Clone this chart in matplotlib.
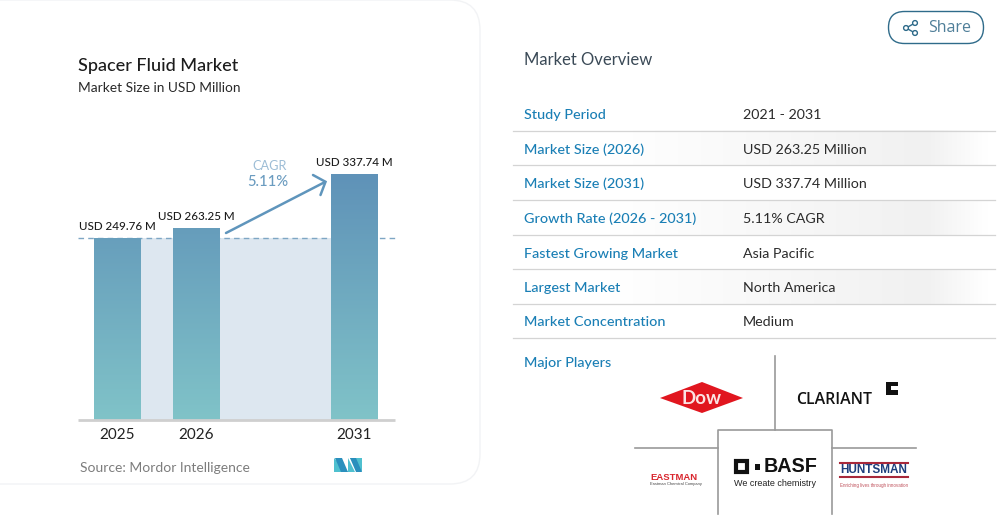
import numpy as np
import matplotlib
matplotlib.use("Agg")
import matplotlib.pyplot as plt
from matplotlib.patches import Rectangle, FancyBboxPatch, Polygon, Circle
from matplotlib.colors import LinearSegmentedColormap

plt.rcParams['font.family'] = ['Lato', 'DejaVu Sans']

W, H = 1002, 531
title = "Spacer Fluid Market"
subtitle = "Market Size in USD Million"
categories = ["2025", "2026", "2031"]
positions = [0, 1, 3]
values = [249.76, 263.25, 337.74]
value_labels = ["USD 249.76 M", "USD 263.25 M", "USD 337.74 M"]
row_names = ["Study Period", "Market Size (2026)", "Market Size (2031)", "Growth Rate (2026 - 2031)",
             "Fastest Growing Market", "Largest Market", "Market Concentration"]
row_values = ["2021 - 2031", "USD 263.25 Million", "USD 337.74 Million", "5.11% CAGR",
              "Asia Pacific", "North America", "Medium"]

fig = plt.figure(figsize=(W / 100, H / 100), dpi=100, facecolor='white')

bg = fig.add_axes([0, 0, 1, 1])
bg.set_xlim(0, W); bg.set_ylim(H, 0); bg.axis('off')

card = FancyBboxPatch((-40, 0), 520, 484, boxstyle="round,pad=0,rounding_size=30",
                      fc='white', ec='#f2f3f5', lw=1)
bg.add_patch(card)
bg.text(78, 66.5, title, fontsize=13.0, color='#1c1c1c', va='center', fontweight='medium')
bg.text(78, 88, subtitle, fontsize=9.95, color='#2a2a2a', va='center')
bg.text(80, 468.5, "Source: Mordor Intelligence", fontsize=10.0, color='#7d7d7d', va='center')

# Mordor mark
bg.add_patch(Polygon([(334, 458), (348, 472), (334, 472)], fc='#4fc0cf'))
bg.add_patch(Polygon([(335, 458), (342, 458), (348, 472), (341, 472)], fc='#2a8fbd'))
bg.add_patch(Polygon([(348, 472), (348, 458), (355, 472)], fc='#4fc0cf'))
bg.add_patch(Polygon([(350, 458), (362, 458), (362, 472)], fc='#4fc0cf'))
bg.add_patch(Polygon([(350, 458), (356, 458), (362, 472), (356, 472)], fc='#2a8fbd'))

# Share button
bg.add_patch(FancyBboxPatch((888.5, 11.5), 95, 32, boxstyle="round,pad=0,rounding_size=16",
                            fc='white', ec='#2f6b8a', lw=1.0))
bg.text(928, 27.5, "Share", fontsize=11.5, color='#4f7f99', va='center', family=['Open Sans'])
for (a, b) in [((906, 28), (915, 23)), ((906, 28), (915, 33))]:
    bg.plot([a[0], b[0]], [a[1], b[1]], color='#2f6b8a', lw=1)
for c in [(906, 28), (915, 23), (915, 33)]:
    bg.add_patch(Circle(c, 2.4, fc='white', ec='#2f6b8a', lw=1, zorder=3))

# Overview table
bg.text(524, 60, "Market Overview", fontsize=12.0, color='#3b4a57', va='center')
row_y = [113.5, 148, 182.5, 217.5, 252, 286.5, 321]
grey = LinearSegmentedColormap.from_list(
    'g', [(0, '#ffffff'), (0.2, '#ffffff'), (0.86, '#f1f1f1'), (0.985, '#ffffff'), (1, '#ffffff')])
for i, (y, n, v) in enumerate(zip(row_y, row_names, row_values)):
    if i % 2 == 1:
        bg.imshow(np.linspace(0, 1, 256)[None, :], extent=[513, 995, y + 17.3, y - 17.3], cmap=grey,
                  aspect='auto', zorder=0, vmin=0, vmax=1)
    bg.text(524, y + 5.5, n, fontsize=10.4, color='#1a7fb5', va='baseline', fontweight='medium')
    bg.text(743, y + 5.5, v, fontsize=10.3, color='#2b2b2b', va='baseline')
    bg.plot([513, 995], [y + 17.2, y + 17.2], color='#d4d4d4', lw=0.9)
bg.text(524, 367, "Major Players", fontsize=10.4, color='#1a7fb5', va='baseline', fontweight='medium')
bg.set_xlim(0, W); bg.set_ylim(H, 0)

# Logo panel
g = '#9a9a9a'
bg.plot([775, 775], [356, 430], color=g, lw=1.2)
bg.plot([635, 718], [448, 448], color=g, lw=1.2)
bg.plot([832, 916], [448, 448], color=g, lw=1.2)
bg.plot([718, 718, 832, 832], [514, 430, 430, 514], color=g, lw=1.2)
bg.add_patch(Polygon([(660, 398), (702, 382), (743, 398), (702, 413)], fc='#e1161f'))
bg.text(702, 398, "Dow", fontsize=13.5, color='#fbe3e3', ha='center', va='center', fontweight='bold')
bg.text(796, 400, "CLARIANT", fontsize=11.4, color='#111111', va='center', fontweight='semibold',
        family=['Open Sans'])
bg.add_patch(Polygon([(886, 382), (898, 382), (898, 386), (891, 386), (891, 390), (898, 390),
                      (898, 395), (886, 395)], fc='#111111'))
bg.add_patch(Rectangle((736, 461), 11, 11, fc='none', ec='#111111', lw=3))
bg.add_patch(Rectangle((755, 464), 5, 6, fc='#111111'))
bg.text(764, 467, "BASF", fontsize=14.2, color='#111111', va='center', fontweight='bold',
        family=['Liberation Sans'])
bg.text(734, 484, "We create chemistry", fontsize=6.5, color='#222222', va='center', family=['Liberation Sans'])
bg.text(650, 477.5, "EASTMAN", fontsize=6.8, color='#d9262e', va='center', fontweight='bold',
        family=['Liberation Sans'])
bg.text(650, 483.5, "Eastman Chemical Company", fontsize=2.9, color='#444444', va='center',
        family=['Liberation Sans'])
bg.plot([840, 908], [463, 463], color='#a8283a', lw=1.5)
bg.text(840, 470, "HUNTSMAN", fontsize=8.5, color='#1d3d7c', va='center', fontweight='bold',
        family=['Liberation Sans'])
bg.plot([840, 908], [477, 477], color='#a8283a', lw=1.5)
bg.text(840, 485, "Enriching lives through innovation", fontsize=3.25, color='#c0535d', va='center',
        family=['Liberation Sans'])

# Chart axes: x spans 78..395 px, y baseline at 420 px, top of plot at 174 px
xl, xr, yb, yt = 78, 395, 420, 174
ax = fig.add_axes([xl / W, 1 - yb / H, (xr - xl) / W, (yb - yt) / H], facecolor='none')
unit = 79.0
x0 = (117.5 - xl) / unit
for s in ['top', 'left', 'right']:
    ax.spines[s].set_visible(False)
ax.spines['bottom'].set_color('#cfcfcf')
ax.spines['bottom'].set_linewidth(2)
ax.spines['bottom'].set_capstyle('butt')
ax.set_yticks([])
ax.set_xticks(positions)
ax.set_xticklabels(categories, fontsize=11.0, color='#222222')
ax.tick_params(axis='x', length=0, pad=6)

bw = 47 / unit
ax.add_patch(Rectangle((positions[0], 0), positions[-1] - positions[0], values[0],
                       fc='#dde7f0', ec='none', zorder=1))
ax.axhline(values[0], xmax=1.01, color='#7ea6c4', lw=1, ls=(0, (4, 3)), zorder=1.5, clip_on=False)
ramp = LinearSegmentedColormap.from_list('bar', ['#5f92b8', '#80c3c8'])
bars = ax.bar(positions, values, width=bw, color='none', zorder=2)
for b, p, v in zip(bars, positions, values):
    im = ax.imshow(np.linspace(0, 1, 256)[:, None], cmap=ramp, aspect='auto', zorder=2,
                   extent=[p - bw / 2, p + bw / 2, 0, values[-1]], origin='upper')
    im.set_clip_path(b)
ax.set_xlim(-x0, (xr - xl) / unit - x0)
ax.set_ylim(0, values[-1])
for p, v, t in zip(positions, values, value_labels):
    ax.annotate(t, (p, v), xytext=(0, 4.5), textcoords='offset points', ha='center',
                va='bottom', fontsize=8.4, color='#1c1c1c', fontweight='medium', annotation_clip=False)

# CAGR arrow and text
bg2 = fig.add_axes([0, 0, 1, 1], facecolor='none')
bg2.set_xlim(0, W); bg2.set_ylim(H, 0); bg2.axis('off')
arrow_col = '#5f95bc'
bg2.plot([226, 325], [233, 182], color=arrow_col, lw=1.8, solid_capstyle='round')
bg2.plot([313, 325.5, 320.5], [175, 181.8, 195], color=arrow_col, lw=1.8, solid_joinstyle='miter', solid_capstyle='round')
bg2.text(270, 166.5, "CAGR", fontsize=9.2, color='#9dbdd6', ha='center', va='center')
bg2.text(268, 182.5, "5.11%", fontsize=10.6, color='#6b9cc0', ha='center', va='center', fontweight='medium')

fig.savefig("out.png", dpi=100, facecolor='white')
